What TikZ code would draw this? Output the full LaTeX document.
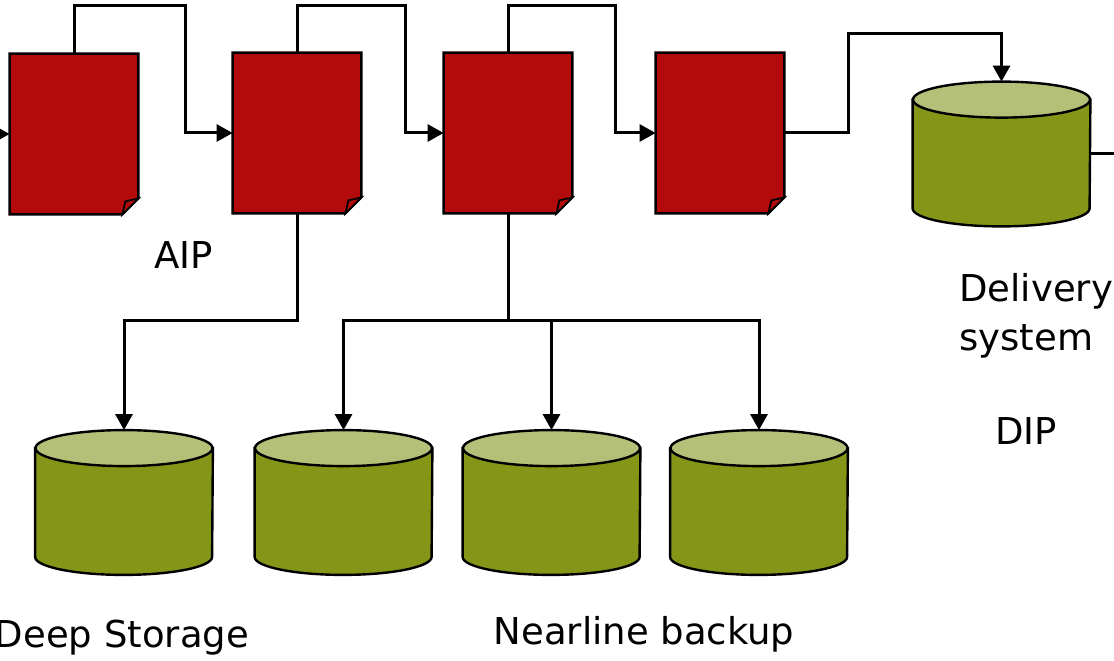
\documentclass[tikz,border=0pt]{standalone}
\usepackage{fontspec}
\setmainfont{DejaVu Sans}
\usetikzlibrary{arrows.meta,calc}
\definecolor{docred}{RGB}{179,11,11}
\definecolor{drumbody}{RGB}{133,149,23}
\definecolor{drumtop}{RGB}{180,192,119}

\begin{document}
\begin{tikzpicture}[x=0.5bp,y=-0.5bp,>={Triangle[length=8bp,width=8.5bp]},
	flow/.style={->,line width=1.5bp},
	aip/.style={minimum width=64bp,minimum height=80bp,inner sep=0pt},
	drum/.style={minimum width=88.5bp,minimum height=72bp,inner sep=0pt},
	lbl/.style={font=\fontsize{18.5bp}{24bp}\selectfont,inner sep=0pt}]
	\useasboundingbox (0,0) rectangle (1114,661);
	
	\node[aip] (d1) at (74,134) {};
	\node[aip] (d2) at (297,133) {};
	\node[aip] (d3) at (508,133) {};
	\node[aip] (d4) at (720,133) {};
	\node[drum] (dlv) at (1001.5,154) {};
	\node[drum] (s1) at (124,502.5) {};
	\node[drum] (s2) at (343.5,502.5) {};
	\node[drum] (s3) at (551.5,502.5) {};
	\node[drum] (s4) at (759,502.5) {};
	
	\foreach \n in {d1,d2,d3,d4} {
		\draw[fill=docred,line width=1.2bp] (\n.north west) -- (\n.north east)
		-- ([yshift=8bp]\n.south east) -- ([xshift=-8bp]\n.south east)
		-- (\n.south west) -- cycle;
		\draw[fill=docred,line width=0.9bp] ([xshift=-8bp]\n.south east)
		-- ([xshift=-6.5bp,yshift=6.5bp]\n.south east) -- ([yshift=8bp]\n.south east) -- cycle;
	}
	
	\foreach \n in {dlv,s1,s2,s3,s4} {
		\draw[fill=drumbody,line width=1.2bp] ([yshift=-9bp]\n.north west)
		-- ([yshift=9bp]\n.south west)
		arc[start angle=180,end angle=360,x radius=44.25bp,y radius=9bp]
		-- ([yshift=-9bp]\n.north east) -- cycle;
		\draw[fill=drumtop,line width=1.2bp] ([yshift=-9bp]\n.north)
		ellipse[x radius=44.25bp,y radius=9bp];
	}
	
	\coordinate (in) at (-10,134);
	\coordinate (t1) at (185,6);
	\coordinate (t2) at (405,6);
	\coordinate (t3) at (615,6);
	\coordinate (t4) at (848,34);
	\coordinate (j1) at (297,321);
	\coordinate (j2) at (508,321);
	\coordinate (out) at (1124,154);
	
	\draw[flow] (in) -- (d1.west);
	\draw[flow] (d1.north) |- (t1) |- (d2.west);
	\draw[flow] (d2.north) |- (t2) |- (d3.west);
	\draw[flow] (d3.north) |- (t3) |- (d4.west);
	\draw[flow] (d4.east) -| (t4) -| (dlv.north);
	\draw[line width=1.5bp] (dlv.east) -- (out);
	\draw[flow] (d2.south) -- (j1) -| (s1.north);
	\foreach \s in {s2,s3,s4}
		\draw[flow] (d3.south) -- (j2) -| (\s.north);
	
	\node[lbl,anchor=base] (aipl) at (183.5,269) {AIP};
	\node[lbl,anchor=base west,align=left] (dlvl) at (959,350) {Delivery\\system};
	\node[lbl,anchor=base] (dipl) at (1026,445) {DIP};
	\node[lbl,anchor=base] (deepl) at (122,648) {Deep Storage};
	\node[lbl,anchor=base] (nearl) at (644,644) {Nearline backup};
\end{tikzpicture}
\end{document}
